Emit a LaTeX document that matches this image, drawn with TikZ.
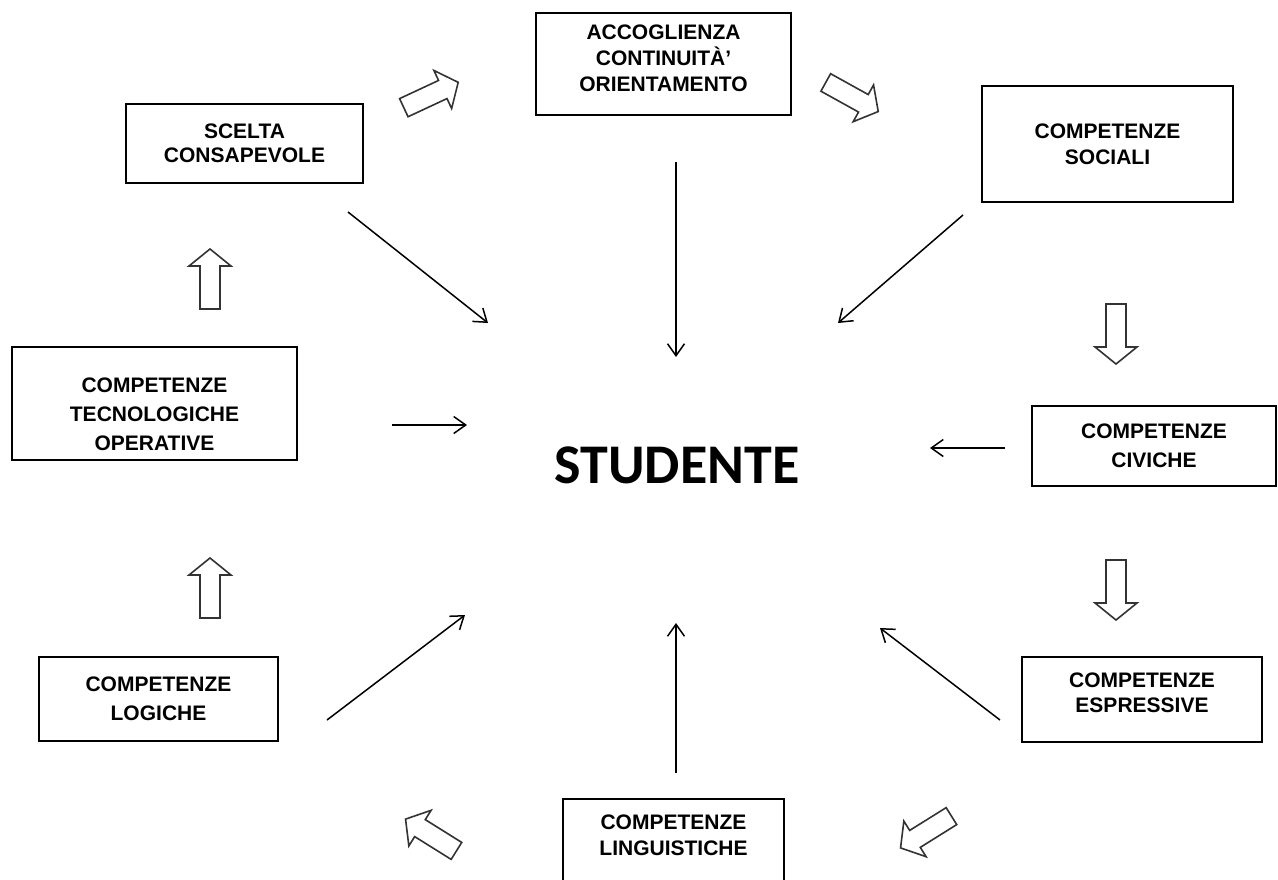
\documentclass[tikz,border=0pt]{standalone}
\usepackage{fontspec}
\setmainfont{Liberation Sans}
\newfontfamily\studfont{Carlito}
\usetikzlibrary{arrows.meta}
\tikzset{
  boxnode/.style={draw, line width=1.5pt, align=center, inner sep=0pt,
    font=\bfseries\fontsize{21}{26}\selectfont},
  txtnode/.style={align=center, inner sep=0pt, font=\bfseries\fontsize{21}{26}\selectfont},
  boxline/.style={line width=1.5pt},
  conn/.style={line width=1.5pt, -{Straight Barb[length=12pt,width=17pt,line width=1.5pt]}},
  blk/.style={line width=1.6pt, draw=black!80, line join=miter},
  barrow/.pic={\draw[blk] (-30,-10) -- (13,-10) -- (13,-21) -- (30,0) -- (13,21) -- (13,10) -- (-30,10) -- cycle;}
}
\begin{document}
\begin{tikzpicture}[x=1pt,y=-1pt]
\useasboundingbox (0,0) rectangle (1278,879);
\begin{scope}
\clip (0,0) rectangle (1278,879);
% boxes
\node[boxnode, minimum width=255pt, minimum height=102pt] (acc) at (663.5,64) {};
\node[txtnode] (acctext) at (663.5,58) {ACCOGLIENZA\\CONTINUITÀ’\\ORIENTAMENTO};
\node[boxnode, minimum width=237pt, minimum height=79pt, font=\bfseries\fontsize{21}{24}\selectfont] (scelta) at (244.5,143.5) {SCELTA\\CONSAPEVOLE};
\node[boxnode, minimum width=251pt, minimum height=116pt] (sociali) at (1107.5,144) {COMPETENZE\\SOCIALI};
\node[boxnode, minimum width=285pt, minimum height=113pt] (tecno) at (154.5,403.5) {};
\node[txtnode, font=\bfseries\fontsize{21}{29}\selectfont] (tecnotext) at (154.5,414) {COMPETENZE\\TECNOLOGICHE\\OPERATIVE};
\node[boxnode, minimum width=244pt, minimum height=80pt, font=\bfseries\fontsize{21}{29}\selectfont] (civiche) at (1154,446) {COMPETENZE\\CIVICHE};
\node[boxnode, minimum width=239pt, minimum height=84pt, font=\bfseries\fontsize{21}{29}\selectfont] (logiche) at (158.5,699) {COMPETENZE\\LOGICHE};
\node[boxnode, minimum width=240pt, minimum height=85pt] (espr) at (1142,699.5) {};
\node[txtnode, font=\bfseries\fontsize{21}{25}\selectfont] (esprtext) at (1142,693) {COMPETENZE\\ESPRESSIVE};
\node[txtnode] (ling) at (673.5,835) {COMPETENZE\\LINGUISTICHE};
\draw[boxline] (563,895) |- (784,799) -- (784,895);
\end{scope}
% centre
\node[inner sep=0pt, font=\studfont\bfseries\fontsize{56}{60}\selectfont] (stud) at (677,465) {STUDENTE};
% connector end points
\coordinate (s1) at (348,212);  \coordinate (e1) at (488,323);
\coordinate (s2) at (676,162);  \coordinate (e2) at (676,357);
\coordinate (s3) at (963,215);  \coordinate (e3) at (838,323);
\coordinate (s4) at (392,425);  \coordinate (e4) at (467,425);
\coordinate (s5) at (1005,448); \coordinate (e5) at (930,448);
\coordinate (s6) at (327,720);  \coordinate (e6) at (465,615);
\coordinate (s7) at (676,773);  \coordinate (e7) at (676,623);
\coordinate (s8) at (1000,720); \coordinate (e8) at (880,628);
\draw[conn] (s1) -- (e1);
\draw[conn] (s2) -- (e2);
\draw[conn] (s3) -- (e3);
\draw[conn] (s4) -- (e4);
\draw[conn] (s5) -- (e5);
\draw[conn] (s6) -- (e6);
\draw[conn] (s7) -- (e7);
\draw[conn] (s8) -- (e8);
% block arrows (cycle)
\pic[rotate=25] at (431,95) {barrow};
\pic[rotate=-29] at (852,97) {barrow};
\pic[rotate=-90] at (1116,334) {barrow};
\pic[rotate=-90] at (1116,590) {barrow};
\pic[rotate=-148] at (926,832) {barrow};
\pic[rotate=148] at (431,835) {barrow};
\pic[rotate=90] at (210,588) {barrow};
\pic[rotate=90] at (210,279) {barrow};
\end{tikzpicture}
\end{document}
